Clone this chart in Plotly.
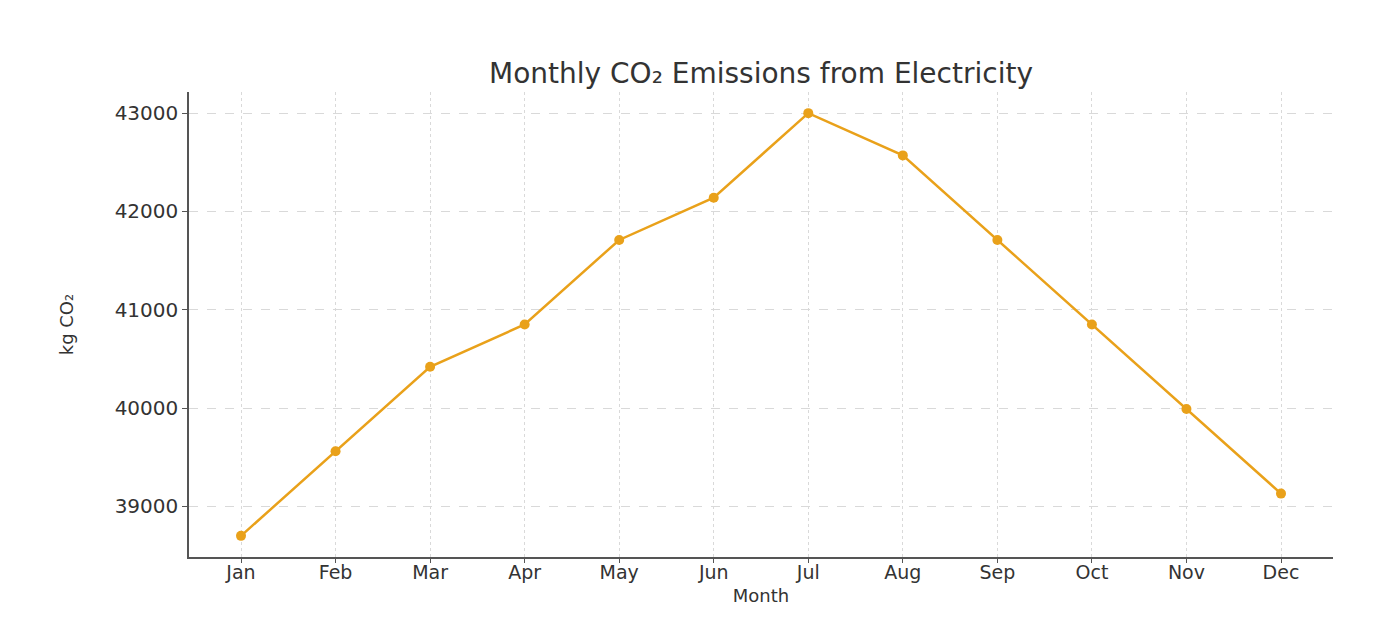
import plotly.graph_objects as go

months = ["Jan", "Feb", "Mar", "Apr", "May", "Jun", "Jul", "Aug", "Sep", "Oct", "Nov", "Dec"]
emissions = [38700, 39560, 40420, 40850, 41710, 42140, 43000, 42570, 41710, 40850, 39990, 39130]
y_ticks = [39000, 40000, 41000, 42000, 43000]

font_family = "DejaVu Sans"
color = "#E9A11A"
text_color = "#333333"

fig = go.Figure()
fig.add_trace(go.Scatter(
    x=months, y=emissions, mode="lines+markers",
    line=dict(color=color, width=2.5),
    marker=dict(color=color, size=10),
    showlegend=False,
))

fig.update_layout(
    width=1387, height=622,
    paper_bgcolor="white", plot_bgcolor="white",
    margin=dict(l=181, r=62, t=84, b=73),
    font=dict(family=font_family, color=text_color),
    title=dict(text="Monthly CO₂ Emissions from Electricity", x=0.5, xref="paper",
               y=1 - 65 / 622, yref="container", yanchor="middle",
               font=dict(size=28, family=font_family, color=text_color)),
)

fig.update_xaxes(
    type="category", range=[-0.55, 11.55],
    showline=True, linecolor="#555555", linewidth=1.5,
    ticks="outside", ticklen=4, tickcolor="#555555",
    ticklabelstandoff=-7,
    showgrid=True, gridcolor="#d9d9d9", griddash="dot", gridwidth=1,
    tickfont=dict(size=19, family=font_family, color=text_color),
    title=dict(text="Month", font=dict(size=18, family=font_family, color=text_color), standoff=8),
    zeroline=False,
)
fig.update_yaxes(
    range=[38485, 43215], tickvals=y_ticks, ticktext=[str(v) for v in y_ticks],
    showline=True, linecolor="#555555", linewidth=1.5,
    ticks="outside", ticklen=5, tickcolor="#555555",
    showgrid=True, gridcolor="#d9d9d9", griddash="dash", gridwidth=1,
    tickfont=dict(size=20, family=font_family, color=text_color),
    title=dict(text="kg CO₂", font=dict(size=18, family=font_family, color=text_color), standoff=36),
    zeroline=False,
)

fig.write_html("out.html")
